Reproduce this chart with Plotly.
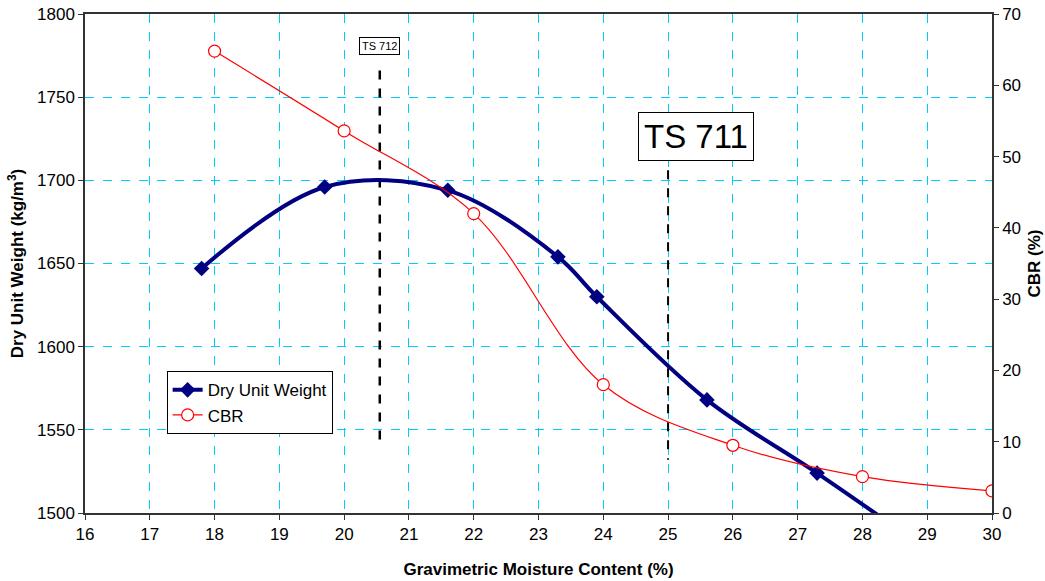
import plotly.graph_objects as go

# Data
dry_x = [17.8, 19.7, 21.6, 23.3, 23.9, 25.6, 27.3, 29.0]
dry_y = [1647, 1696, 1694, 1654, 1630, 1568, 1524, 1478]

cbr_x = [18, 20, 22, 24, 26, 28, 30]
cbr_y = [64.8, 53.6, 42.0, 18.0, 9.5, 5.1, 3.1]

ts712_x = [20.55, 20.55]
ts712_y = [1766, 1541]
ts711_x = [25.0, 25.0]
ts711_y = [1706, 1532]

FONT = "Liberation Sans, Arial, sans-serif"
GRID = "#00CCFF"

fig = go.Figure()

fig.add_trace(go.Scatter(
    x=ts712_x, y=ts712_y, mode="lines", showlegend=False,
    line=dict(color="black", width=2.5, dash="dash"), hoverinfo="skip"))
fig.add_trace(go.Scatter(
    x=ts711_x, y=ts711_y, mode="lines", showlegend=False,
    line=dict(color="black", width=2, dash="dash"), hoverinfo="skip"))

fig.add_trace(go.Scatter(
    x=dry_x, y=dry_y, name="Dry Unit Weight", mode="lines+markers",
    line=dict(color="#000080", width=4, shape="spline", smoothing=1),
    marker=dict(symbol="diamond", size=12, color="#000080"),
))
fig.add_trace(go.Scatter(
    x=cbr_x, y=cbr_y, name="CBR", mode="lines+markers", yaxis="y2",
    line=dict(color="#FF0000", width=1.2, shape="spline", smoothing=1),
    marker=dict(symbol="circle", size=12, color="white",
                line=dict(color="#FF0000", width=1.2)),
))

fig.add_annotation(x=20.55, y=1780.5, text="TS 712", showarrow=False,
                   font=dict(family=FONT, size=11, color="black"),
                   bordercolor="black", borderwidth=1, borderpad=2, bgcolor="white")
fig.add_annotation(x=25.43, y=1726.5, text="TS 711", showarrow=False,
                   font=dict(family=FONT, size=33, color="black"),
                   bordercolor="black", borderwidth=1, borderpad=5, bgcolor="white")

fig.update_layout(
    width=1045, height=581,
    margin=dict(l=85, r=53, t=14, b=68),
    paper_bgcolor="white", plot_bgcolor="white",
    font=dict(family=FONT, size=17, color="black"),
    xaxis=dict(
        range=[16, 30], dtick=1, tick0=16, automargin=False,
        showgrid=True, gridcolor=GRID, griddash="dash", gridwidth=1,
        showline=True, linecolor="#333333", linewidth=1.5, mirror=True,
        ticks="outside", ticklen=5, tickcolor="#333333",
        tickfont=dict(size=17),
        zeroline=False,
        title=dict(text="<b>Gravimetric Moisture Content (%)</b>",
                   font=dict(family=FONT, size=17), standoff=20),
    ),
    yaxis=dict(
        range=[1500, 1800], dtick=50, automargin=False,
        showgrid=True, gridcolor=GRID, griddash="dash", gridwidth=1,
        showline=True, linecolor="#333333", linewidth=1.5, mirror=True,
        ticks="outside", ticklen=5, tickcolor="#333333",
        tickfont=dict(size=17),
        zeroline=False,
        title=dict(text="<b>Dry Unit Weight (kg/m<sup>3</sup>)</b>",
                   font=dict(family=FONT, size=17), standoff=9),
    ),
    yaxis2=dict(
        range=[0, 70], dtick=10, overlaying="y", side="right", automargin=False,
        showgrid=False, zeroline=False,
        showline=True, linecolor="#333333", linewidth=1.5,
        ticks="outside", ticklen=5, tickcolor="#333333",
        tickfont=dict(size=17),
        title=dict(text="<b>CBR (%)</b>", font=dict(family=FONT, size=17), standoff=8),
    ),
    legend=dict(
        x=0.09, y=0.284, xanchor="left", yanchor="top",
        bgcolor="white", bordercolor="black", borderwidth=1,
        font=dict(family=FONT, size=17), tracegroupgap=0, itemwidth=30,
    ),
    showlegend=True,
)

fig.write_html("out.html")
